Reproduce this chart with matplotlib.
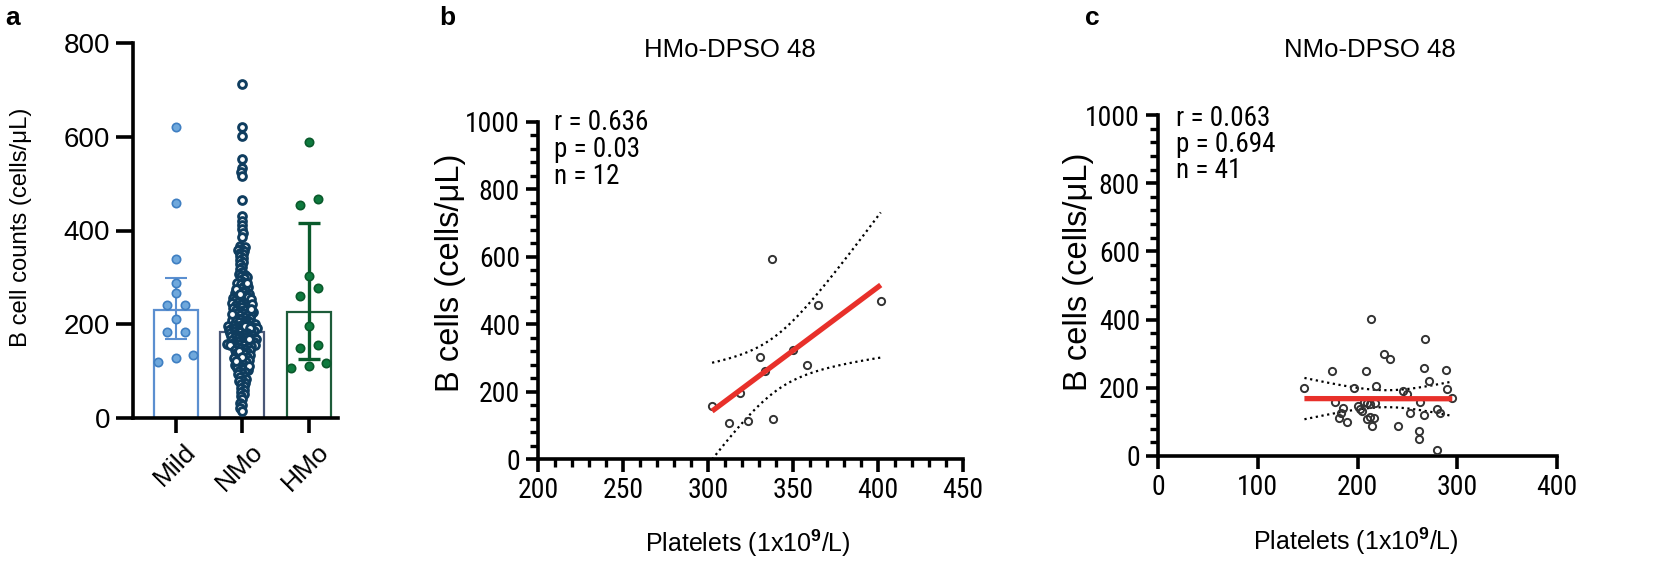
import numpy as np
import matplotlib
matplotlib.use("Agg")
import matplotlib.pyplot as plt
from matplotlib.ticker import MultipleLocator, FixedLocator
from matplotlib import font_manager

# ---------------- data ----------------
groups = ["Mild", "NMo", "HMo"]
mild_vals = [621, 459, 339, 289, 267, 241, 241, 211, 183, 183, 119, 134, 128]
hmo_vals = [588, 467, 455, 302, 277, 260, 197, 156, 149, 117, 107, 112]
nmo_vals = [
    713, 621, 601, 553, 533, 524, 517, 465, 432, 421, 411, 403, 394, 387,
    368, 364, 361, 359, 356, 353, 349, 345, 341, 337,
    333, 328, 322, 317, 312, 308, 305, 302, 300, 298, 295, 291,
    288, 285, 282, 279, 277, 274, 272, 269, 267, 265, 263, 261, 259, 257, 256,
    254, 252, 251, 249, 287, 276, 264, 258, 253,
    248, 246, 245, 243, 242, 240, 239, 237, 236, 234, 233, 231, 230, 228, 227,
    226, 224, 223, 221, 220, 219, 217, 216, 214, 213, 212, 210, 209, 208, 206,
    205, 204, 203, 201, 200, 244, 232, 222,
    199, 198, 197, 196, 195, 194, 193, 192, 191, 190, 189, 188, 187, 186, 185,
    184, 183, 196, 191, 186,
    182, 181, 180, 179, 178, 177, 176, 175, 174, 173, 172, 171, 170, 169, 168,
    167, 166, 165, 164, 163, 162, 161, 160, 159, 158, 157, 156, 155, 154, 153,
    152, 151, 150, 168, 158, 155,
    148, 146, 145, 143, 141, 139, 137, 136, 134, 132, 130, 128, 127, 125, 123,
    121, 119, 117, 115, 113, 111, 109, 107, 105, 103, 101, 144, 131, 122, 112,
    99, 96, 93, 90, 87, 84, 81, 78, 75, 72, 68, 64, 60, 56, 52,
    47, 40, 33, 27, 21, 15,
]
bar_heights = [231, 183, 226]       # medians
err_low = [169, 170, 126]           # lower interquartile
err_high = [299, 198, 417]          # upper interquartile

hmo_platelets = [302.4, 312.6, 318.6, 323.5, 330.3, 333.3, 337.6, 338.5, 350.0, 358.4, 364.5, 401.6]
hmo_bcells = [157, 106, 197, 114, 303, 261, 593, 118, 322, 278, 457, 469]

nmo_platelets = [146.8, 174.6, 177.5, 181.9, 183.3, 185.4, 189.5, 196.5, 200.9, 202.7,
                 205.0, 208.8, 210.0, 212.6, 213.5, 214.6, 216.4, 217.7, 218.4, 226.3,
                 232.5, 240.4, 245.6, 249.7, 252.6, 261.7, 261.7, 262.3, 266.7, 266.7,
                 267.7, 271.7, 280.0, 280.0, 282.3, 288.3, 289.3, 295.0, 206.5, 213.0, 209.5]
nmo_bcells = [198, 250, 159, 110, 127, 142, 99, 200, 148, 139,
              131, 249, 154, 113, 403, 88, 110, 156, 205, 300,
              283, 88, 191, 183, 127, 73, 49, 158, 259, 119,
              342, 219, 139, 17, 126, 251, 197, 171, 157, 152, 109]

stats_b = ["r = 0.636", "p = 0.03", "n = 12"]
stats_c = ["r = 0.063", "p = 0.694", "n = 41"]
t_crit_b = 2.228   # t(0.975, df=10)
t_crit_c = 2.023   # t(0.975, df=39)

# ---------------- fonts ----------------
all_names = {f.name for f in font_manager.fontManager.ttflist}
narrow_pick = None
for cand in ['Liberation Sans Narrow', 'Arial Narrow', 'Roboto Condensed', 'Archivo Narrow']:
    if cand in all_names:
        narrow_pick = cand
        break
NARROW = ([narrow_pick] if narrow_pick else []) + ['Liberation Sans', 'DejaVu Sans']

# ---------------- style ----------------
W, H = 1654, 564
plt.rcParams['font.family'] = ['Liberation Sans', 'DejaVu Sans']
plt.rcParams['mathtext.fontset'] = 'custom'
plt.rcParams['mathtext.rm'] = 'Liberation Sans'
plt.rcParams['mathtext.bf'] = 'Liberation Sans:bold'

fig = plt.figure(figsize=(W / 100, H / 100), dpi=100)


def px_axes(left, right, top, bottom):
    return fig.add_axes([left / W, 1 - bottom / H, (right - left) / W, (bottom - top) / H])


def ftext(x, y, s, **kw):
    return fig.text(x / W, 1 - y / H, s, **kw)


def style_axes(ax, lw=2.6):
    for side in ['top', 'right']:
        ax.spines[side].set_visible(False)
    for side in ['left', 'bottom']:
        ax.spines[side].set_linewidth(lw)
        ax.spines[side].set_color('black')
        ax.spines[side].set_capstyle('projecting')


# ---------------- panel a ----------------
mild_col_face, mild_col_edge = '#6fa8dc', '#3f7fc2'
nmo_col_edge = '#0f3d5f'
hmo_col_face, hmo_col_edge = '#0e7a3e', '#0a5a2c'
bar_edges = ['#5b8fd0', '#4a5878', '#1d5c3a']
err_cols = ['#5b8fd0', '#0f3d5f', '#0a5a2c']
err_lw = [1.5, 1.5, 2.4]

axA = px_axes(133, 338, 43, 418)
axA.set_xlim(-0.647, 2.44)
axA.set_ylim(0, 800)
style_axes(axA)
xpos = np.arange(len(groups))
axA.bar(xpos, bar_heights, width=0.66, facecolor='white', edgecolor=bar_edges,
        linewidth=1.6, zorder=1)
for i in range(3):
    axA.errorbar(xpos[i], bar_heights[i],
                 yerr=[[bar_heights[i] - err_low[i]], [err_high[i] - bar_heights[i]]],
                 fmt='none', ecolor=err_cols[i], elinewidth=err_lw[i], capsize=8,
                 capthick=err_lw[i], zorder=2)


def ypx_of(ax, vals):
    return ax.transData.transform(np.column_stack([np.zeros(len(vals)), vals]))[:, 1]


def xscale_px(ax):
    return ax.transData.transform([[1, 0]])[0, 0] - ax.transData.transform([[0, 0]])[0, 0]


def cluster_positions(ax, vals, center, thr_px, sep_px):
    vals = np.asarray(vals, float)
    ypx = ypx_of(ax, vals)
    order = np.argsort(ypx)
    clusters, cur = [], [order[0]]
    for a, b in zip(order[:-1], order[1:]):
        if ypx[b] - ypx[a] < thr_px:
            cur.append(b)
        else:
            clusters.append(cur)
            cur = [b]
    clusters.append(cur)
    offs = np.zeros(len(vals))
    for cl in clusters:
        k = len(cl)
        for j, i in enumerate(cl):
            offs[i] = (j - (k - 1) / 2) * sep_px
    return center + offs / xscale_px(ax)


def swarm_positions(ax, vals, center, dmin_px, step_px):
    vals = np.asarray(vals, float)
    ypx = ypx_of(ax, vals)
    order = np.argsort(ypx)
    placed = []
    offs = np.zeros(len(vals))
    for n, i in enumerate(order):
        y = ypx[i]
        k = 0
        chosen = None
        while chosen is None:
            if k == 0:
                cands = [0.0]
            else:
                cands = [k * step_px, -k * step_px] if n % 2 == 0 else [-k * step_px, k * step_px]
            for c in cands:
                if all((c - px) ** 2 + (y - py) ** 2 >= dmin_px ** 2 for px, py in placed):
                    chosen = c
                    break
            k += 1
        offs[i] = chosen
        placed.append((chosen, y))
    return center + offs / xscale_px(ax)


mx = cluster_positions(axA, mild_vals, 0, 8, 17.5)
axA.plot(mx, mild_vals, 'o', ms=6.0, mfc=mild_col_face, mec=mild_col_edge, mew=1.2,
         ls='none', zorder=3)
nx = swarm_positions(axA, nmo_vals, 1, 3.4, 0.5)
axA.plot(nx, nmo_vals, 'o', ms=5.6, mfc='white', mec=nmo_col_edge, mew=2.1,
         ls='none', zorder=3)
hx = cluster_positions(axA, hmo_vals, 2, 8, 17.5)
axA.plot(hx, hmo_vals, 'o', ms=6.0, mfc=hmo_col_face, mec=hmo_col_edge, mew=1.2,
         ls='none', zorder=3)

axA.set_yticks([0, 200, 400, 600, 800])
axA.set_xticks(xpos)
axA.set_xticklabels(groups, rotation=45, ha='right', va='top', rotation_mode='anchor',
                    fontsize=19)
axA.tick_params(axis='y', length=12.5, width=2.6, pad=4, labelsize=20)
axA.tick_params(axis='x', length=10.5, width=2.6, pad=5)
for lab in axA.get_xticklabels():
    lab.set_transform(lab.get_transform() + matplotlib.transforms.ScaledTranslation(8 / 100, 0, fig.dpi_scale_trans))
ftext(21, 227, "B cell counts (cells/μL)", rotation=90, ha='center', va='center', fontsize=17.2)
ftext(13, 18, "a", ha='center', va='center', fontsize=19, fontweight='bold')


# ---------------- correlation panels ----------------
def corr_panel(ax, x, y, t_crit, xlim, xmajor, xminor):
    x = np.asarray(x, float)
    y = np.asarray(y, float)
    ax.set_xlim(*xlim)
    ax.set_ylim(0, 1000)
    style_axes(ax)
    slope, icpt = np.polyfit(x, y, 1)
    xs = np.linspace(x.min(), x.max(), 200)
    n = len(x)
    resid = y - (slope * x + icpt)
    s = np.sqrt(np.sum(resid ** 2) / (n - 2))
    sxx = np.sum((x - x.mean()) ** 2)
    se = s * np.sqrt(1 / n + (xs - x.mean()) ** 2 / sxx)
    fit = slope * xs + icpt
    ax.plot(xs, fit + t_crit * se, color='black', lw=1.6, ls=(0, (1, 1.6)), zorder=2)
    ax.plot(xs, fit - t_crit * se, color='black', lw=1.6, ls=(0, (1, 1.6)), zorder=2)
    ax.plot(x, y, 'o', ms=5.2, mfc='none', mec='#333333', mew=1.4, ls='none', zorder=3)
    ax.plot(xs, fit, color='#e8302a', lw=3.8, solid_capstyle='butt', zorder=4)
    ax.yaxis.set_major_locator(MultipleLocator(200))
    ax.yaxis.set_minor_locator(MultipleLocator(40))
    ax.xaxis.set_major_locator(MultipleLocator(xmajor))
    if xminor:
        ax.xaxis.set_minor_locator(MultipleLocator(xminor))
    else:
        ax.xaxis.set_minor_locator(FixedLocator([]))
    ax.tick_params(which='major', length=9, width=2.6, pad=4, labelsize=20,
                   labelfontfamily=NARROW[0])
    ax.tick_params(which='minor', length=5.5, width=2.4)


axB = px_axes(538, 963, 122, 459)
corr_panel(axB, hmo_platelets, hmo_bcells, t_crit_b, (200, 450), 50, 10)
axC = px_axes(1158, 1557, 115, 456)
corr_panel(axC, nmo_platelets, nmo_bcells, t_crit_c, (0, 400), 100, None)

for k, line in enumerate(stats_b):
    ftext(554, 123 + 26.5 * k, line, ha='left', va='center', fontsize=19.5, family=NARROW)
for k, line in enumerate(stats_c):
    ftext(1176, 118 + 26.5 * k, line, ha='left', va='center', fontsize=19.5, family=NARROW)

ftext(730, 50, "HMo-DPSO 48", ha='center', va='center', fontsize=18.5)
ftext(1370, 50, "NMo-DPSO 48", ha='center', va='center', fontsize=18.5)
xlab = "Platelets (1x10$^{\\mathbf{9}}$/L)"
ftext(748, 543, xlab, ha='center', va='center', fontsize=18)
ftext(1356, 541, xlab, ha='center', va='center', fontsize=18)
ftext(450, 273, "B cells (cells/μL)", rotation=90, ha='center', va='center', fontsize=23.5)
ftext(1079, 272, "B cells (cells/μL)", rotation=90, ha='center', va='center', fontsize=23.5)
ftext(447, 18, "b", ha='center', va='center', fontsize=19, fontweight='bold')
ftext(1092, 18, "c", ha='center', va='center', fontsize=19, fontweight='bold')

fig.savefig("out.png", dpi=100, facecolor='white')
